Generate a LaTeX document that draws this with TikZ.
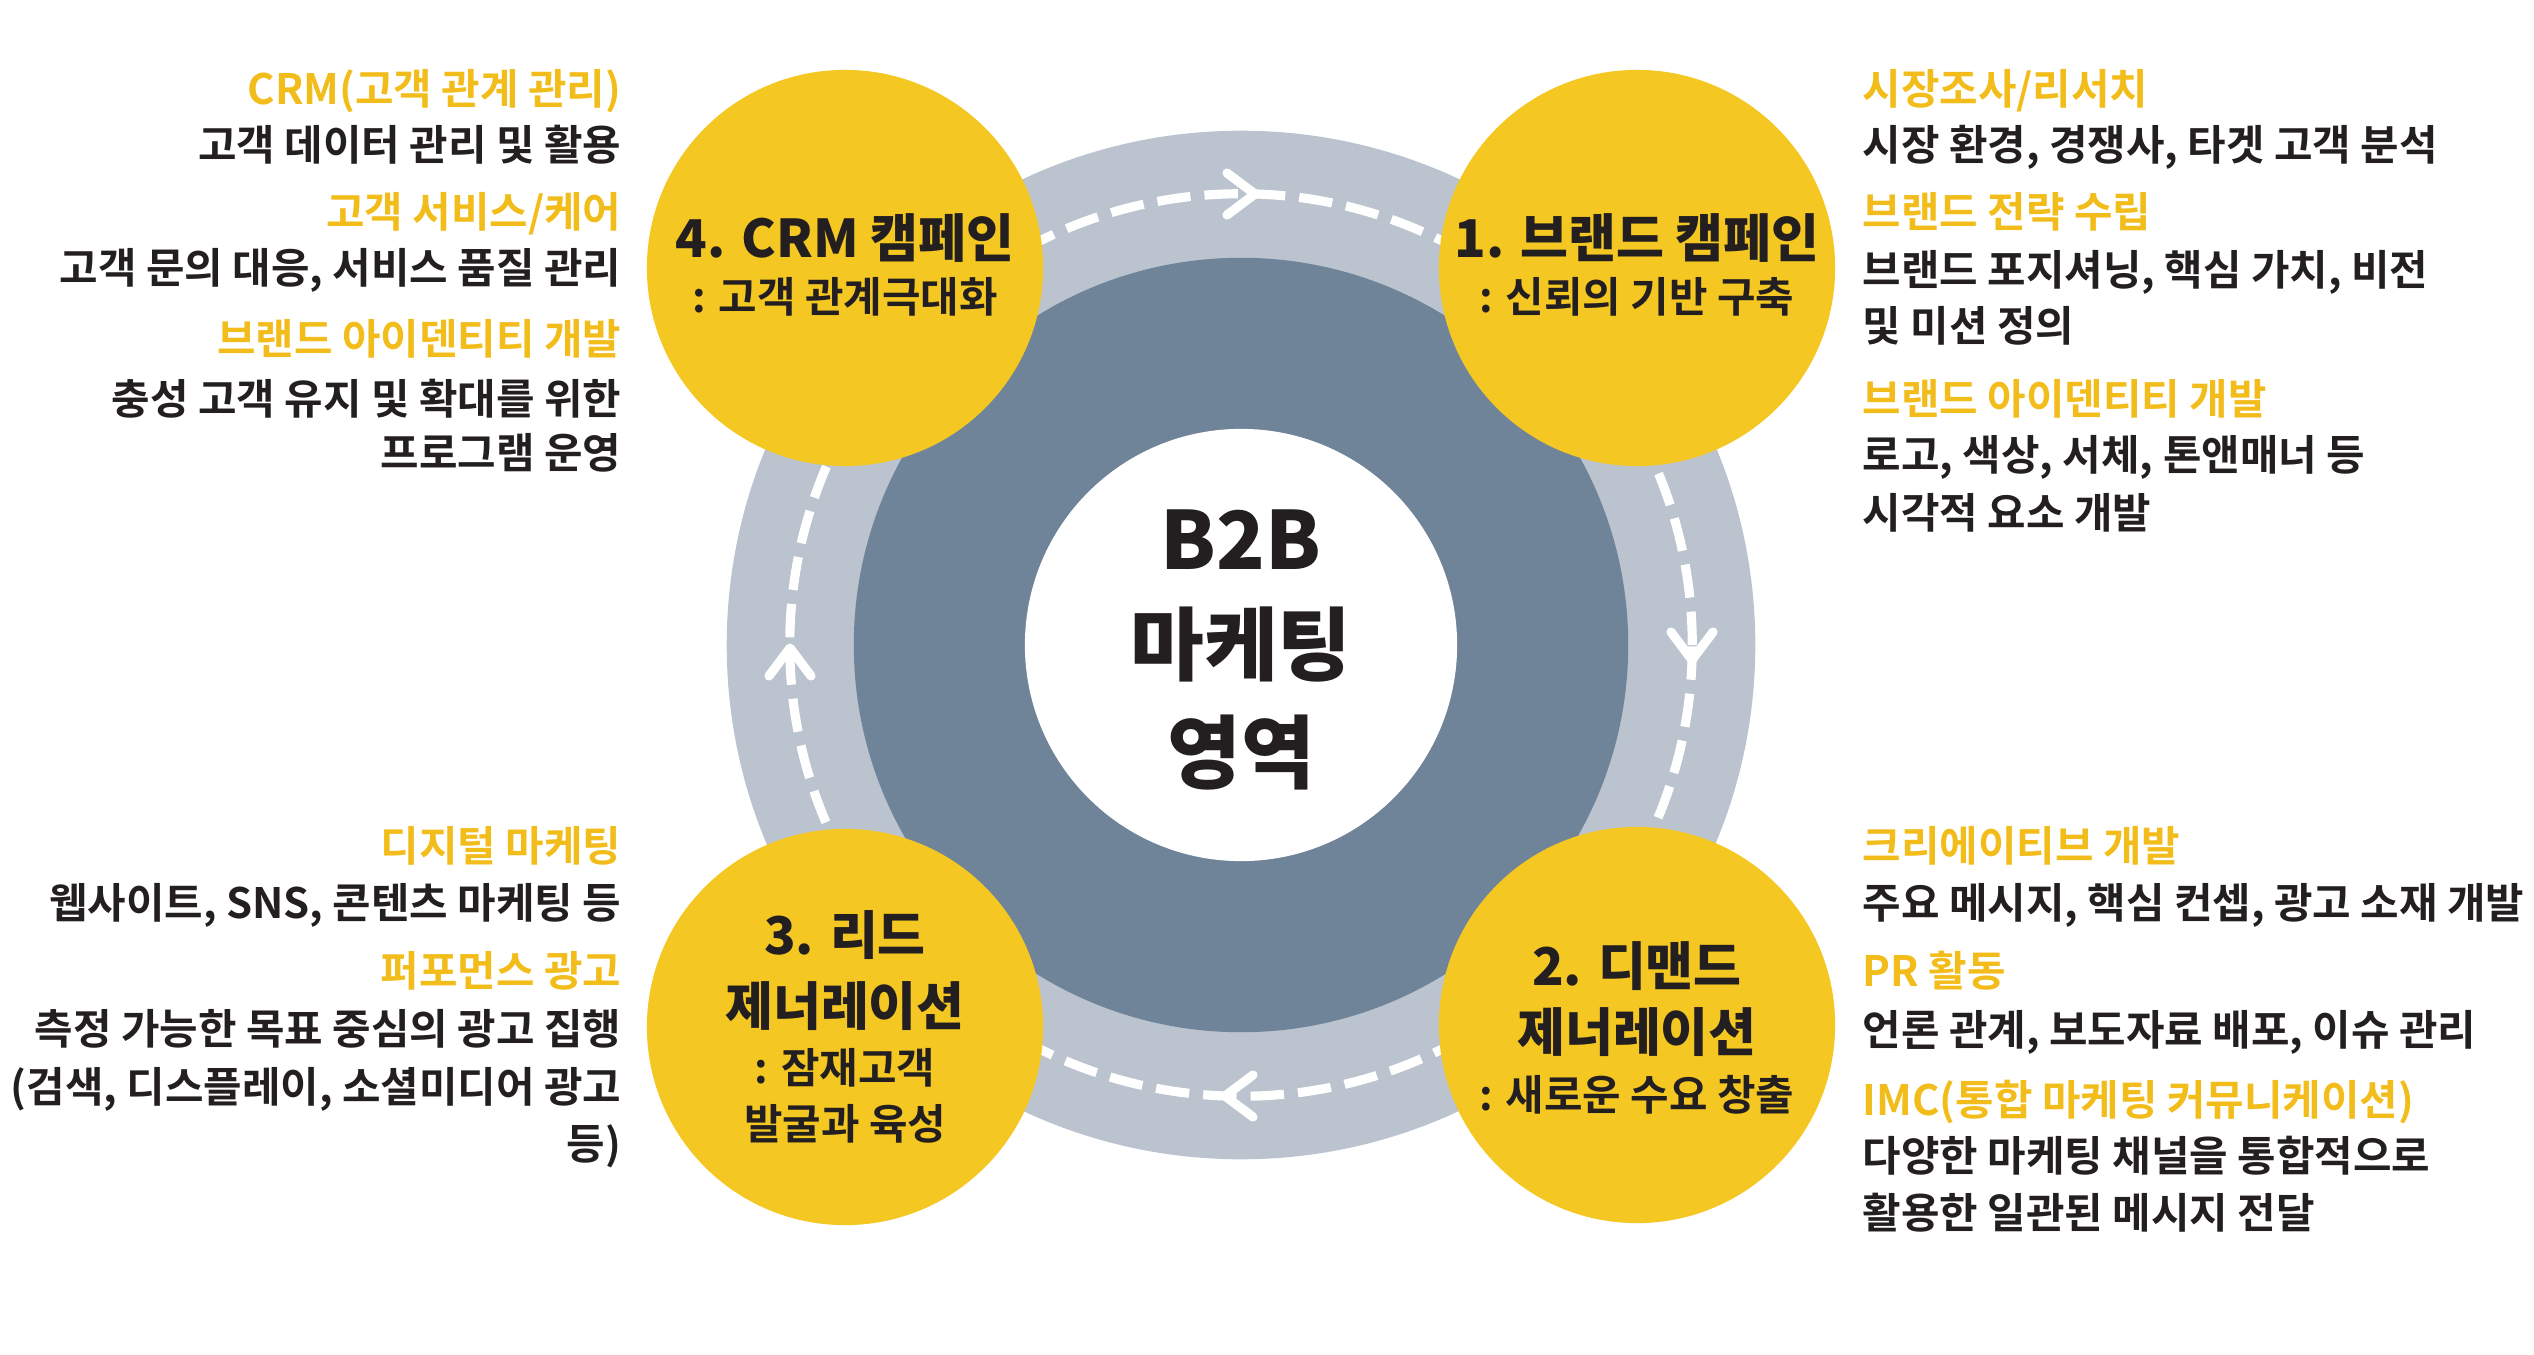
\documentclass[tikz,border=0pt]{standalone}
\usepackage{fontspec}
\usepackage{tikz}

\newfontfamily\krfont{Noto Sans CJK KR}[UprightFont=* Bold, BoldFont=* Black]
\newfontfamily\krtitle{Noto Sans CJK KR}[UprightFont=* Black, BoldFont=* Black]

\definecolor{ringlight}{HTML}{BAC3CE}
\definecolor{ringdark}{HTML}{6F8499}
\definecolor{bubbleyellow}{HTML}{F4C722}
\definecolor{headyellow}{HTML}{F2BC1A}
\definecolor{inkdark}{HTML}{231F20}

\begin{document}
\begin{tikzpicture}[x=0.01cm,y=-0.01cm,
    head/.style={text=headyellow,font=\krfont\fontsize{11.9}{14}\selectfont,inner sep=0pt},
    body/.style={text=inkdark,font=\krfont\fontsize{11.9}{14}\selectfont,inner sep=0pt},
    bubtitle/.style={text=inkdark,font=\krtitle\fontsize{14.8}{18}\selectfont,inner sep=0pt},
    hubtext/.style={text=inkdark,font=\krtitle\fontsize{22.8}{26}\selectfont,inner sep=0pt},
    bubble/.style={circle,fill=bubbleyellow,minimum size=3.96cm,inner sep=0pt},
    roaddash/.style={white,line width=2.6pt,dash pattern=on 9.5pt off 4pt},
    chevron/.style={white,line width=2.6pt,line cap=round,line join=round}]
  \useasboundingbox (0,0) rectangle (2534,1355);
  % rings round the hub
  \coordinate (C) at (1241,645);
  \fill[ringlight] (C) circle[radius=5.14cm];
  \fill[ringdark] (C) circle[radius=3.87cm];
  \fill[white] (C) circle[radius=2.16cm];
  % dashed road with clockwise chevrons
  \draw[roaddash] (C) circle[radius=4.51cm];
  \draw[chevron] (1227,173) -- (1255,194) -- (1227,215);
  \draw[chevron] (1671,632) -- (1692,660) -- (1713,632);
  \draw[chevron] (1253,1075) -- (1225,1096) -- (1253,1117);
  \draw[chevron] (769,676) -- (790,648) -- (811,676);
  % hub label
  \node[hubtext,anchor=base] (hub1) at (1241,569) {B2B};
  \node[hubtext,anchor=base] (hub2) at (1241,674) {마케팅};
  \node[hubtext,anchor=base] (hub3) at (1241,782) {영역};
  % the four stages
  \node[bubble] (c1) at (1637,268) {};
  \node[bubble] (c2) at (1637,1025) {};
  \node[bubble] (c3) at (845,1027) {};
  \node[bubble] (c4) at (845,268) {};
  \node[bubtitle,anchor=base] (t1) at (1637,258) {1. 브랜드 캠페인};
  \node[body,anchor=base] (s1) at (1637,313) {: 신뢰의 기반 구축};
  \node[bubtitle,anchor=base] (t2a) at (1637,985) {2. 디맨드};
  \node[bubtitle,anchor=base] (t2b) at (1637,1051) {제너레이션};
  \node[body,anchor=base] (s2) at (1637,1110) {: 새로운 수요 창출};
  \node[bubtitle,anchor=base] (t3a) at (845,954) {3. 리드};
  \node[bubtitle,anchor=base] (t3b) at (845,1025) {제너레이션};
  \node[body,anchor=base] (s3a) at (845,1083) {: 잠재고객};
  \node[body,anchor=base] (s3b) at (845,1139) {발굴과 육성};
  \node[bubtitle,anchor=base] (t4) at (845,258) {4. CRM 캠페인};
  \node[body,anchor=base] (s4) at (845,313) {: 고객 관계극대화};
  % side notes, left (right aligned)
  \foreach \y/\sty/\txt in {105/head/{CRM(고객 관계 관리)}, 161/body/{고객 데이터 관리 및 활용},
      228/head/{고객 서비스/케어}, 284/body/{고객 문의 대응, 서비스 품질 관리},
      354/head/{브랜드 아이덴티티 개발}, 414/body/{충성 고객 유지 및 확대를 위한},
      468/body/{프로그램 운영}}
    \node[\sty,anchor=base east] (lt\y) at (622,\y) {\txt};
  \foreach \y/\sty/\txt in {861/head/{디지털 마케팅}, 918/body/{웹사이트, SNS, 콘텐츠 마케팅 등},
      986/head/{퍼포먼스 광고}, 1044/body/{측정 가능한 목표 중심의 광고 집행},
      1102/body/{(검색, 디스플레이, 소셜미디어 광고}, 1159/body/{등)}}
    \node[\sty,anchor=base east] (lb\y) at (622,\y) {\txt};
  % side notes, right (left aligned)
  \foreach \y/\sty/\txt in {105/head/{시장조사/리서치}, 161/body/{시장 환경, 경쟁사, 타겟 고객 분석},
      228/head/{브랜드 전략 수립}, 286/body/{브랜드 포지셔닝, 핵심 가치, 비전},
      342/body/{및 미션 정의}, 414/head/{브랜드 아이덴티티 개발},
      470/body/{로고, 색상, 서체, 톤앤매너 등}, 528/body/{시각적 요소 개발}}
    \node[\sty,anchor=base west] (rt\y) at (1862,\y) {\txt};
  \foreach \y/\sty/\txt in {861/head/{크리에이티브 개발}, 918/body/{주요 메시지, 핵심 컨셉, 광고 소재 개발},
      986/head/{PR 활동}, 1045/body/{언론 관계, 보도자료 배포, 이슈 관리},
      1115/head/{IMC(통합 마케팅 커뮤니케이션)}, 1171/body/{다양한 마케팅 채널을 통합적으로},
      1228/body/{활용한 일관된 메시지 전달}}
    \node[\sty,anchor=base west] (rb\y) at (1862,\y) {\txt};
\end{tikzpicture}
\end{document}
